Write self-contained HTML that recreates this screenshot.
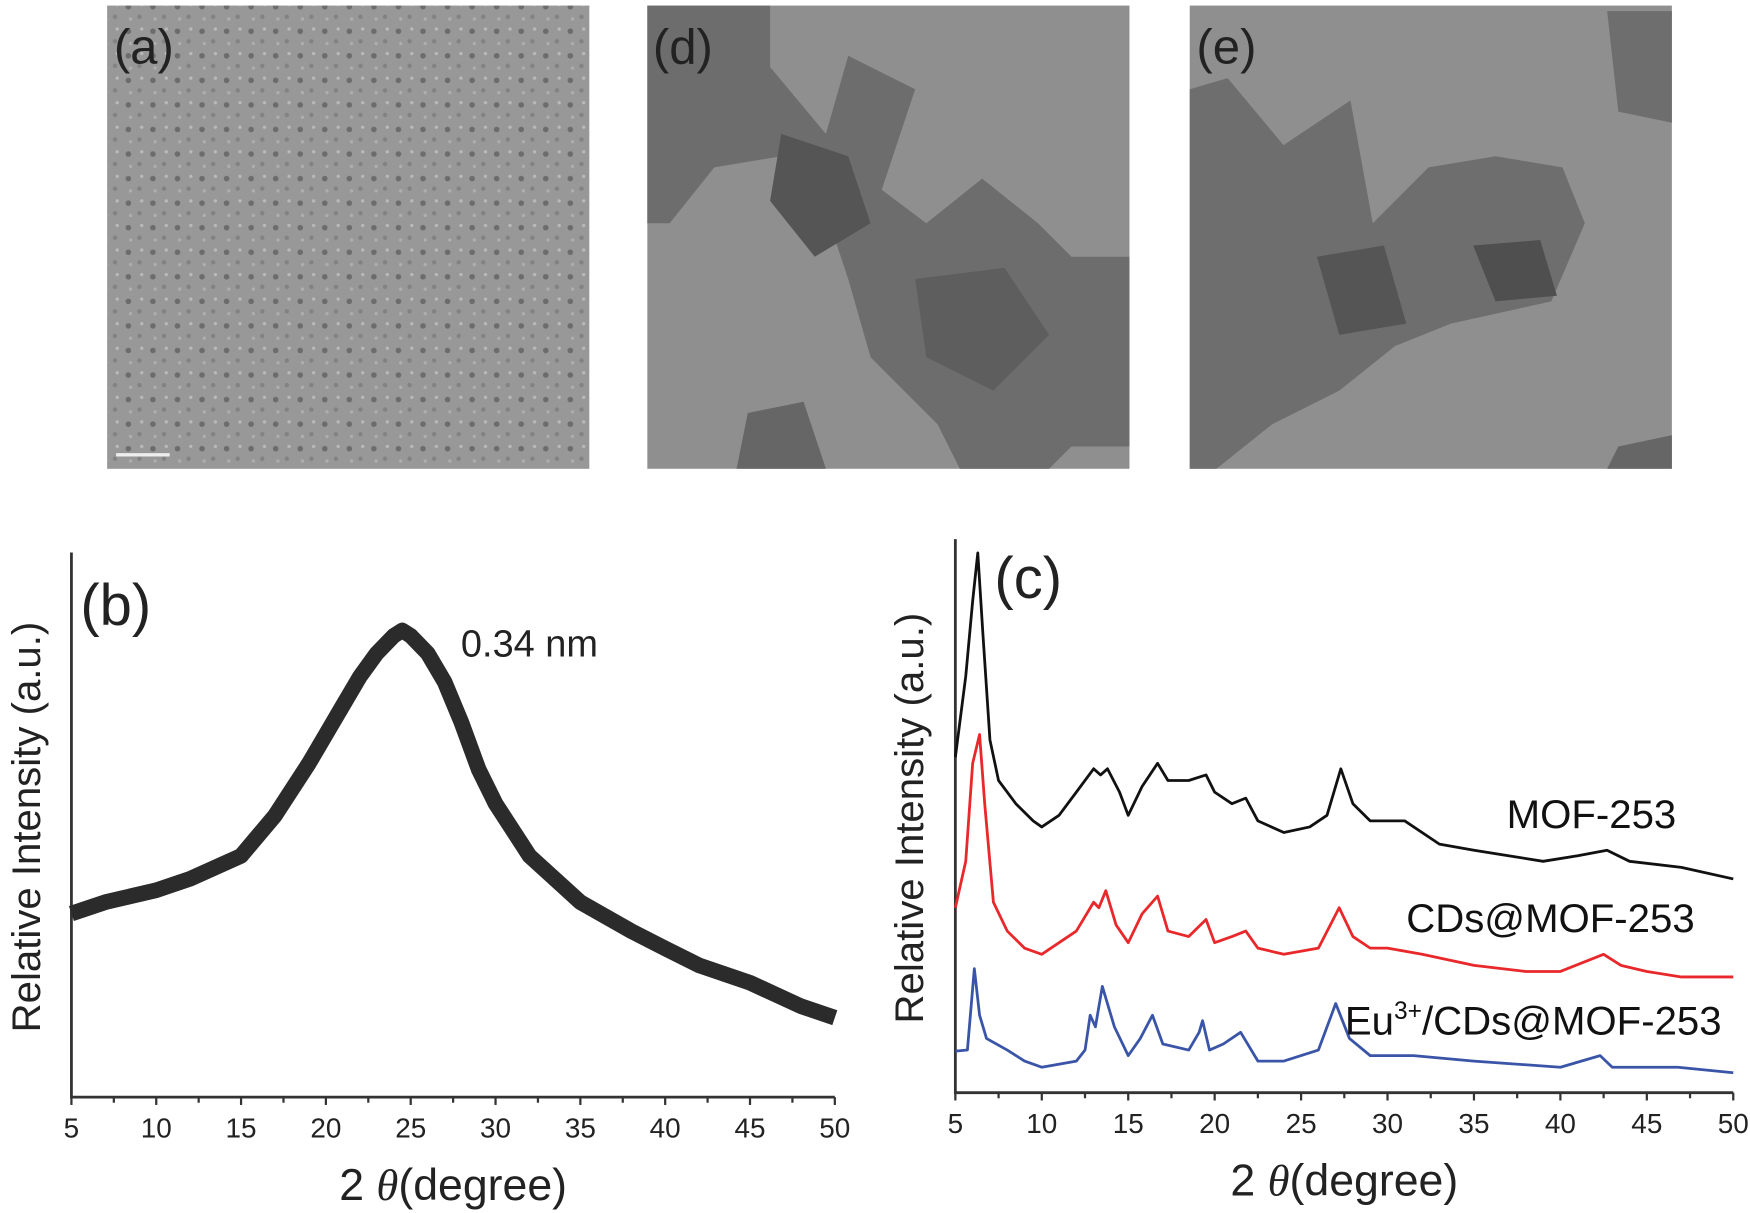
<!DOCTYPE html>
<html><head><meta charset="utf-8"><style>
body{margin:0;background:#fff}
svg{display:block;font-family:"Liberation Sans",Arial,sans-serif}
</style></head><body>
<svg id="fig" width="1750" height="1213" viewBox="0 0 1568 1086.8" preserveAspectRatio="none" xmlns="http://www.w3.org/2000/svg">
<defs>
<pattern id="grainA" width="22" height="22" patternUnits="userSpaceOnUse">
<rect width="22" height="22" fill="#999"/>
<circle cx="5" cy="6" r="2.5" fill="#555"/><circle cx="15" cy="15" r="2" fill="#777"/>
<circle cx="17" cy="4" r="1.5" fill="#ccc"/><circle cx="7" cy="17" r="1.5" fill="#bbb"/>
</pattern>
</defs>
<g>
<rect x="96" y="5" width="432" height="415" fill="url(#grainA)"/>
<rect x="96" y="5" width="432" height="415" fill="#999" opacity="0.35"/>
<text x="102" y="57" font-size="44" fill="#222">(a)</text>
<rect x="104" y="406" width="48" height="3" fill="#eee"/>
</g>
<g>
<rect x="580" y="5" width="432" height="415" fill="#8f8f8f"/>
<polygon points="580,5 690,5 690,60 740,120 760,50 820,80 790,170 830,200 880,160 930,200 960,230 1012,230 1012,400 960,400 940,420 860,420 840,380 780,320 760,250 740,190 700,140 640,150 600,200 580,200" fill="#6d6d6d"/>
<polygon points="700,120 760,140 780,200 730,230 690,180" fill="#555"/>
<polygon points="820,250 900,240 940,300 890,350 830,320" fill="#5e5e5e"/>
<polygon points="670,370 720,360 740,420 660,420" fill="#666"/>
<text x="585" y="57" font-size="44" fill="#222">(d)</text>
</g>
<g>
<rect x="1066" y="5" width="432" height="415" fill="#8f8f8f"/>
<polygon points="1066,80 1100,70 1150,130 1210,90 1230,200 1280,150 1340,140 1400,150 1420,200 1390,270 1300,290 1250,310 1200,350 1140,380 1090,420 1066,420" fill="#6e6e6e"/>
<polygon points="1440,10 1498,10 1498,110 1450,100" fill="#6e6e6e"/>
<polygon points="1180,230 1240,220 1260,290 1200,300" fill="#555"/>
<polygon points="1320,220 1380,215 1395,265 1340,270" fill="#4f4f4f"/>
<polygon points="1450,400 1498,390 1498,420 1440,420" fill="#666"/>
<text x="1072" y="57" font-size="44" fill="#222">(e)</text>
</g>
<g id="chartB"></g>
<g id="chartC"></g>
</svg>
<script>
// Chart b data (relative intensity 0..1 of plot height)
const bX = [5,7,10,12,15,17,19,20,21,22,23,24,24.5,25,26,27,28,29,30,32,35,38,40,42,45,48,50];
const bY = [0.337,0.358,0.380,0.401,0.443,0.517,0.613,0.666,0.719,0.772,0.815,0.847,0.857,0.847,0.815,0.762,0.687,0.602,0.539,0.443,0.358,0.305,0.273,0.242,0.210,0.167,0.146];
const xTicks = [5,10,15,20,25,30,35,40,45,50];
// Chart c data
const cBlackX = [5,5.6,6.0,6.3,6.6,7.0,7.5,8.5,9.5,10,11,12,13,13.4,13.8,14.5,15,15.8,16.7,17.3,18.5,19.5,20,21,21.8,22.5,24,25.5,26.5,27.3,28,29,30,31,33,35,37,39,41,42.7,44,47,50];
const cBlackY = [0.606,0.752,0.888,0.975,0.825,0.637,0.564,0.522,0.491,0.480,0.501,0.543,0.585,0.574,0.585,0.543,0.501,0.553,0.595,0.564,0.564,0.574,0.543,0.522,0.532,0.491,0.470,0.480,0.501,0.585,0.522,0.491,0.491,0.491,0.449,0.438,0.428,0.418,0.428,0.438,0.418,0.407,0.386];
const cRedX = [5,5.6,6.0,6.4,6.7,7.2,8,9,10,11,12,13,13.3,13.7,14.3,15,15.8,16.7,17.3,18.5,19.5,20,21,21.8,22.5,24,26,27.2,28,29,30,32,35,38,40,42.5,43.5,45,47,50];
const cRedY = [0.334,0.418,0.595,0.647,0.522,0.344,0.292,0.261,0.250,0.271,0.292,0.344,0.334,0.365,0.303,0.271,0.323,0.355,0.292,0.282,0.313,0.271,0.282,0.292,0.261,0.250,0.261,0.334,0.282,0.261,0.261,0.250,0.230,0.219,0.219,0.250,0.230,0.219,0.209,0.209];
const cBlueX = [5,5.7,6.1,6.4,6.8,8,9,10,12,12.5,12.8,13.1,13.5,14.2,15,15.7,16.4,17,18.5,19.1,19.3,19.7,20.5,21.5,22.5,24,26,27,27.8,29,30,31.5,35,40,42.3,43,46.8,50];
const cBlueY = [0.075,0.077,0.224,0.140,0.098,0.077,0.057,0.046,0.057,0.077,0.140,0.119,0.192,0.119,0.067,0.098,0.140,0.088,0.077,0.109,0.130,0.077,0.088,0.109,0.057,0.057,0.077,0.161,0.098,0.067,0.067,0.067,0.057,0.046,0.067,0.046,0.046,0.036];
const NS="http://www.w3.org/2000/svg";
function mk(tag,attrs,parent){const e=document.createElementNS(NS,tag);for(const k in attrs)e.setAttribute(k,attrs[k]);parent.appendChild(e);return e;}
function drawAxes(g,x0,x1,yTop,yBot,titleX,prefix){
  const sx=v=>x0+(v-5)/45*(x1-x0);
  const ax=mk('path',{d:`M${x0},${yTop} V${yBot} H${x1}`,stroke:'#333','stroke-width':2.5,fill:'none'},g);
  
  
  for(let v=5;v<=50;v+=2.5){mk('line',{x1:sx(v),x2:sx(v),y1:yBot,y2:yBot+(v%5===0?7:5),stroke:'#333','stroke-width':2},g);}
  xTicks.forEach(v=>{const t=mk('text',{x:sx(v),y:yBot+36,'font-size':25,'text-anchor':'middle',fill:'#222'},g);t.textContent=v;
    
    });
  const xt=mk('text',{x:(x0+x1)/2,y:yBot+92,'font-size':40,'text-anchor':'middle',fill:'#222'},g);
  xt.innerHTML='2 <tspan font-style="italic" font-family="Liberation Serif">θ</tspan>(degree)';
  
  
  const yt=mk('text',{x:0,y:0,'font-size':36,'text-anchor':'middle',fill:'#222',transform:`translate(${titleX},${(yTop+yBot)/2+2}) rotate(-90)`},g);
  yt.textContent='Relative Intensity (a.u.)';
  
  
  return sx;
}
function line(g,xs,ys,sx,sy,color,w,name){
  const d=xs.map((x,i)=>(i?'L':'M')+sx(x).toFixed(1)+','+sy(ys[i]).toFixed(1)).join(' ');
  const p=mk('path',{d:d,stroke:color,'stroke-width':w,fill:'none','stroke-linejoin':'round'},g);
  
  
}
// chart b
const gb=document.getElementById('chartB');
const bTop=495,bBot=983;
const sxb=drawAxes(gb,64,748,bTop,bBot,36,'chart-b');
const syb=v=>bBot-v*(bBot-bTop);
line(gb,bX,bY,sxb,syb,'#2b2b2b',14,'xrd-curve-cds');
const lb=mk('text',{x:72,y:560,'font-size':52,fill:'#222'},gb);lb.textContent='(b)';


const an=mk('text',{x:413,y:588,'font-size':34,fill:'#222'},gb);an.textContent='0.34 nm';


// chart c
const gc=document.getElementById('chartC');
const cTop=483,cBot=979;
const sxc=drawAxes(gc,856,1553,cTop,cBot,827,'chart-c');
const syc=v=>cBot-v*(cBot-cTop);
line(gc,cBlackX,cBlackY,sxc,syc,'#111',2.5,'series-mof-253');
line(gc,cRedX,cRedY,sxc,syc,'#e8282a',2.5,'series-cds-mof-253');
line(gc,cBlueX,cBlueY,sxc,syc,'#3a55a8',2.5,'series-eu-cds-mof-253');
const lc=mk('text',{x:891,y:536,'font-size':52,fill:'#222'},gc);lc.textContent='(c)';


const l1=mk('text',{x:1350,y:742,'font-size':36,fill:'#111'},gc);l1.textContent='MOF-253';


const l2=mk('text',{x:1260,y:835,'font-size':36,fill:'#111'},gc);l2.textContent='CDs@MOF-253';


const l3=mk('text',{x:1205,y:927,'font-size':36,fill:'#111'},gc);
l3.innerHTML='Eu<tspan font-size="22" dy="-14">3+</tspan><tspan dy="14">/CDs@MOF-253</tspan>';


</script>
</body></html>
